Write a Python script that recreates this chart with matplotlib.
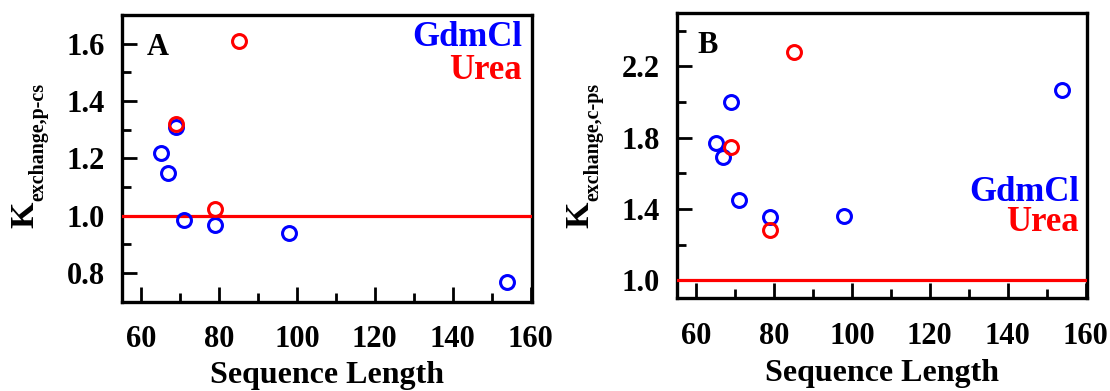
import matplotlib
matplotlib.use('Agg')
import matplotlib.pyplot as plt
from matplotlib.ticker import MultipleLocator, FixedLocator

plt.rcParams['font.family'] = 'Liberation Serif'
plt.rcParams['font.weight'] = 'bold'

# sequence lengths and exchange constants
gdm_len = [65, 67, 69, 71, 79, 98, 154]
gdm_pcs = [1.22, 1.15, 1.31, 0.985, 0.967, 0.94, 0.77]
gdm_cps = [1.77, 1.69, 2.00, 1.45, 1.355, 1.36, 2.065]

urea_len = [85, 69, 79]
urea_pcs = [1.61, 1.32, 1.025]
urea_cps = [2.28, 1.75, 1.28]

yticks_A = [0.8, 1.0, 1.2, 1.4, 1.6]
yminor_A = [0.9, 1.1, 1.3, 1.5]
yticks_B = [1.0, 1.4, 1.8, 2.2]
yminor_B = [1.2, 1.6, 2.0, 2.4]

W, H = 1110, 391
fig = plt.figure(figsize=(W / 100, H / 100), dpi=100)

def box(l, t, r, b):
    return [l / W, (H - b) / H, (r - l) / W, (b - t) / H]

axA = fig.add_axes(box(121.7, 15, 531.7, 301.7))
axB = fig.add_axes(box(676.7, 12.7, 1086.7, 298.3))

def style(ax, ylim, ymaj, ymin, lpad):
    ax.set_xlim(55, 160.3)
    ax.set_ylim(*ylim)
    ax.xaxis.set_major_locator(MultipleLocator(20))
    ax.xaxis.set_minor_locator(MultipleLocator(10))
    ax.yaxis.set_major_locator(FixedLocator(ymaj))
    ax.yaxis.set_minor_locator(FixedLocator(ymin))
    ax.yaxis.set_major_formatter('{x:.1f}')
    ax.tick_params(which='both', direction='in', top=False, right=False,
                   width=2, labelsize=22)
    ax.tick_params(axis='x', which='major', length=11, pad=17)
    ax.tick_params(axis='x', which='minor', length=6.5)
    ax.tick_params(axis='y', which='major', length=11, pad=12)
    ax.tick_params(axis='y', which='minor', length=6.5)
    for s in ax.spines.values():
        s.set_linewidth(2.4)
    ax.set_xlabel('Sequence Length', fontsize=23, fontweight='bold', labelpad=lpad)

style(axA, (0.7, 1.7), yticks_A, yminor_A, 4.5)
style(axB, (0.9, 2.5), yticks_B, yminor_B, 6)

for ax, g, u in [(axA, gdm_pcs, urea_pcs), (axB, gdm_cps, urea_cps)]:
    ax.axhline(1.0, color='red', lw=2.3, zorder=3)
    ax.plot(gdm_len, g, 'o', mfc='none', mec='blue', ms=10, mew=2.2, zorder=4, clip_on=False)
    ax.plot(urea_len, u, 'o', mfc='none', mec='red', ms=10, mew=2.2, zorder=5, clip_on=False)

axA.text(0.061, 0.86, 'A', transform=axA.transAxes, fontsize=22, fontweight='bold')
axB.text(0.05, 0.859, 'B', transform=axB.transAxes, fontsize=22, fontweight='bold')

axA.text(0.976, 0.92, 'GdmCl', color='blue', transform=axA.transAxes,
         fontsize=25, fontweight='bold', ha='right', va='center')
axA.text(0.976, 0.808, 'Urea', color='red', transform=axA.transAxes,
         fontsize=25, fontweight='bold', ha='right', va='center')
axB.text(0.981, 0.372, 'GdmCl', color='blue', transform=axB.transAxes,
         fontsize=25, fontweight='bold', ha='right', va='center')
axB.text(0.981, 0.267, 'Urea', color='red', transform=axB.transAxes,
         fontsize=25, fontweight='bold', ha='right', va='center')

# y labels: big K with a smaller subscript, drawn as two rotated texts
for dx, sub in [(0, 'exchange,p-cs'), (555, 'exchange,c-ps')]:
    fig.text((dx + 33) / W, (H - 228) / H, 'K', rotation=90, rotation_mode='anchor',
             ha='left', va='baseline', fontsize=24.5, fontweight='bold')
    fig.text((dx + 43) / W, (H - 201) / H, sub, rotation=90, rotation_mode='anchor',
             ha='left', va='baseline', fontsize=14.4, fontweight='bold')

fig.savefig('out.png', dpi=100)
